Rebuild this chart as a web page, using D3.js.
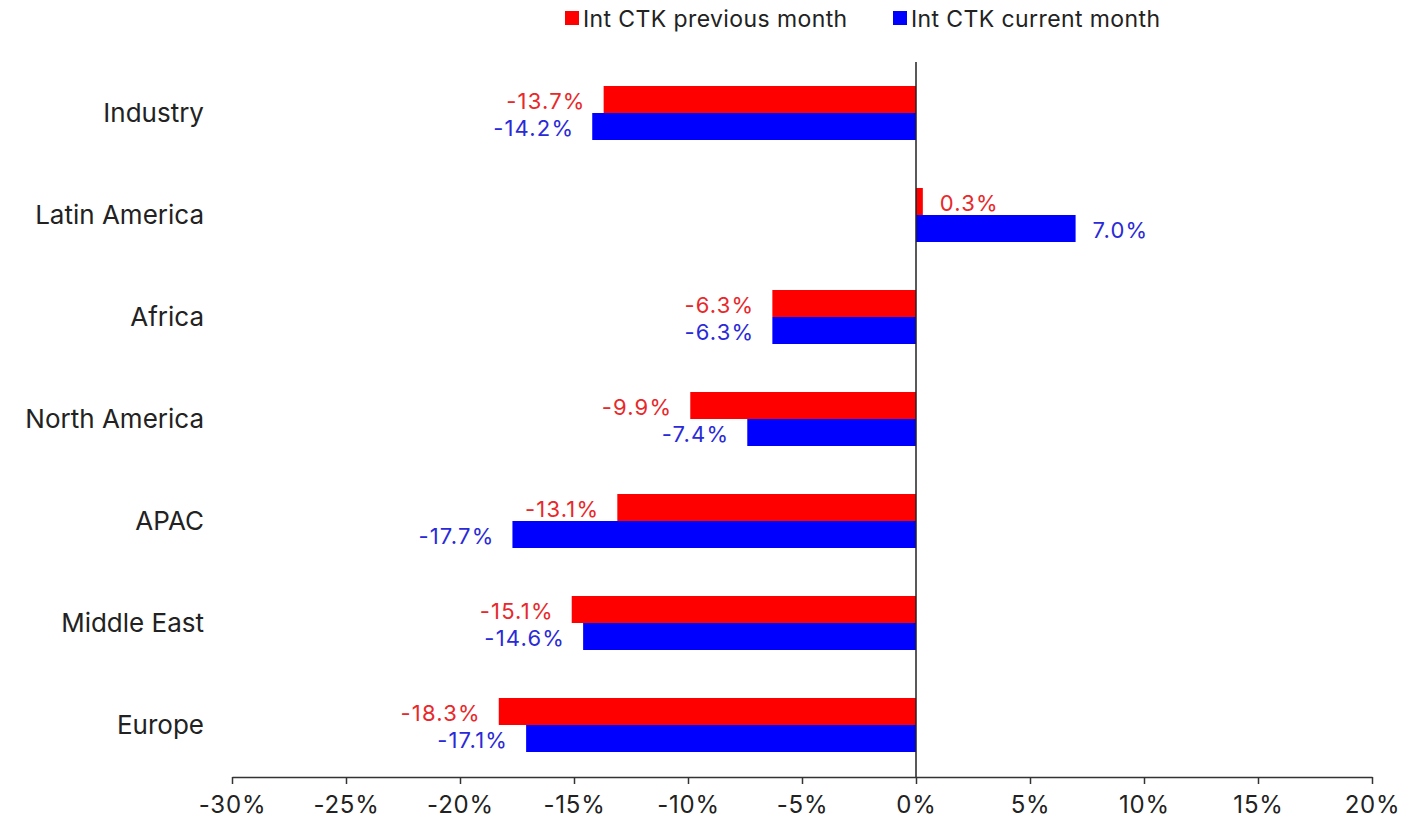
<!DOCTYPE html>
<html>
<head>
<meta charset="utf-8">
<script src="https://cdn.jsdelivr.net/npm/d3@7"></script>
<style>
  body { margin: 0; background: #fff; }
  svg text { font-family: Inter, "Liberation Sans", sans-serif; }
</style>
</head>
<body>
<div id="chart"></div>
<script>
// data
const categories = ["Industry", "Latin America", "Africa", "North America", "APAC", "Middle East", "Europe"];
const previousMonth = [-13.7, 0.3, -6.3, -9.9, -13.1, -15.1, -18.3];
const currentMonth = [-14.2, 7.0, -6.3, -7.4, -17.7, -14.6, -17.1];
const xTicks = [-30, -25, -20, -15, -10, -5, 0, 5, 10, 15, 20];
const seriesNames = ["Int CTK previous month", "Int CTK current month"];

const width = 1407, height = 828;
const barColors = ["#ff0000", "#0000ff"];
const labelColors = ["#e8282a", "#2a2ad8"];

const svg = d3.select("#chart").append("svg")
  .attr("width", width)
  .attr("height", height);

const x = d3.scaleLinear().domain([-30, 20]).range([232, 1372]);
const y = d3.scaleBand().domain(categories).range([62, 776]);
const barH = 27;
const pct = d => d.toFixed(1) + "%";

const series = [previousMonth, currentMonth];

// bars
series.forEach((vals, s) => {
  const rows = categories.map((c, i) => ({ c: c, v: vals[i] }));
  const g = svg.append("g");
  g.selectAll("rect")
    .data(rows)
    .join("rect")
    .attr("x", d => x(Math.min(0, d.v)))
    .attr("width", d => Math.abs(x(d.v) - x(0)))
    .attr("y", d => y(d.c) + y.bandwidth() / 2 - (s === 0 ? barH : 0))
    .attr("height", barH)
    .attr("fill", barColors[s]);

  g.selectAll("text")
    .data(rows)
    .join("text")
    .attr("x", d => d.v < 0 ? x(d.v) - 18 : x(d.v) + 17)
    .attr("y", d => y(d.c) + y.bandwidth() / 2 + (s === 0 ? -barH / 2 : barH / 2) + 2)
    .attr("dy", "0.35em")
    .attr("text-anchor", d => d.v < 0 ? "end" : "start")
    .attr("fill", labelColors[s])
    .attr("font-size", 22)
    .attr("letter-spacing", 1.2)
    .text(d => pct(d.v));
});

// zero line
svg.append("line")
  .attr("x1", x(0)).attr("x2", x(0))
  .attr("y1", 62).attr("y2", 777)
  .attr("stroke", "#222")
  .attr("stroke-width", 1.5);

// category labels
svg.append("g")
  .selectAll("text")
  .data(categories)
  .join("text")
  .attr("x", 204)
  .attr("y", d => y(d) + y.bandwidth() / 2)
  .attr("dy", "0.35em")
  .attr("text-anchor", "end")
  .attr("fill", "#222")
  .attr("font-size", 26)
  .text(d => d);

// x axis
const xAxis = svg.append("g")
  .attr("transform", "translate(0,777)")
  .call(d3.axisBottom(x).tickValues(xTicks).tickSize(7).tickSizeOuter(0).tickPadding(12)
    .tickFormat(d => d + "%"));
xAxis.select(".domain").attr("stroke", "#333").attr("stroke-width", 1.5);
xAxis.selectAll(".tick line").attr("stroke", "#333").attr("stroke-width", 1.5);
xAxis.selectAll(".tick text")
  .attr("font-size", 24)
  .attr("letter-spacing", 0.8)
  .attr("fill", "#222")
  .style("font-family", "Inter, 'Liberation Sans', sans-serif");

// legend
const legendX = [565, 893];
const legend = svg.append("g");
seriesNames.forEach((name, i) => {
  legend.append("rect")
    .attr("x", legendX[i]).attr("y", 11)
    .attr("width", 14).attr("height", 14)
    .attr("fill", barColors[i]);
  legend.append("text")
    .attr("x", legendX[i] + 18).attr("y", 19)
    .attr("dy", "0.35em")
    .attr("font-size", 23)
    .attr("letter-spacing", 0.4)
    .attr("fill", "#222")
    .text(name);
});
</script>
</body>
</html>
